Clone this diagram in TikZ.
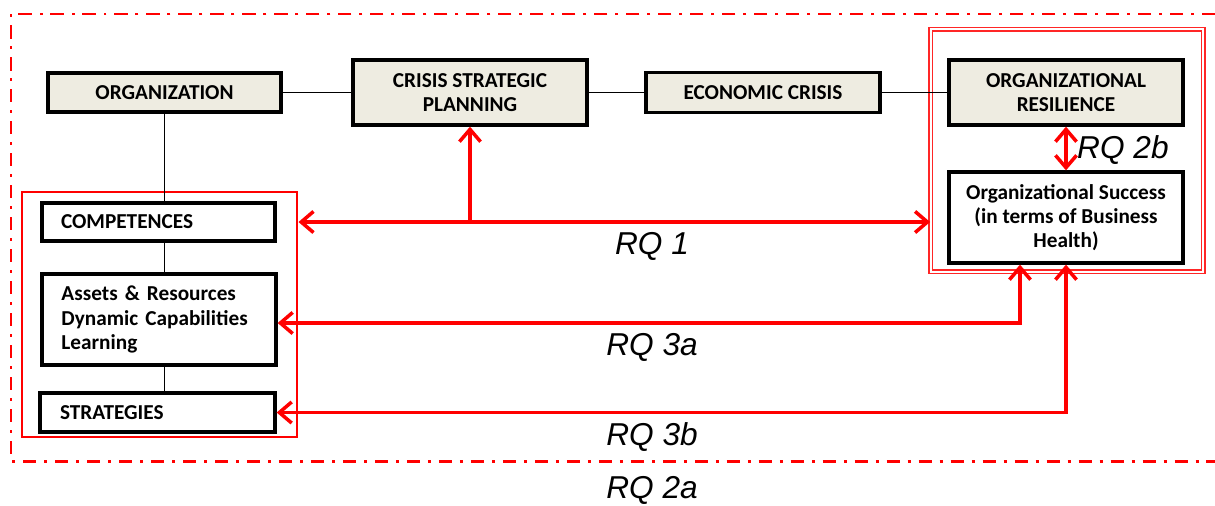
\documentclass[tikz,border=0pt]{standalone}
\usepackage{fontspec}
\setmainfont{Carlito}
\newfontfamily\rqfont{Liberation Sans}
\usepackage{xcolor}
\usepackage{tikz}
\usetikzlibrary{
		calc,
		arrows.meta,
		positioning
	}
\tikzset{
		>={Straight Barb[length=7pt,width=12pt,line width=2pt]}
	}
\definecolor{boxfill}{HTML}{EEECE1}

\begin{document}
\begin{tikzpicture}[
          box/.style={draw=black,line width=1.9pt,fill=boxfill,align=center,
            font=\fontsize{12.1}{13.8}\selectfont\bfseries,inner sep=2pt},
          plainbox/.style={box,fill=white},
          leftbox/.style={plainbox,align=left,text width=3.9cm},
          link/.style={black,line width=1.1pt},
          rq/.style={red,line width=2pt},
          rqlabel/.style={font=\rqfont\fontsize{18}{20}\selectfont\itshape}
          ]
          \useasboundingbox (0,0) rectangle (24.3,-10.1);

          % outer frame, open on the right
          \draw[red,line width=1.7pt,dash pattern=on 7.5pt off 4.5pt on 1.7pt off 4.5pt]
            (24.3,-0.28) -- (0.22,-0.28) -- (0.22,-9.22) -- (24.3,-9.22);

          \node[draw=red,line width=1.7pt,minimum width=5.5cm,minimum height=4.9cm] (leftgrp) at (3.19,-6.29) {};
          \node[draw=red!85,line width=0.75pt,double=white,double distance=1.1pt,
            minimum width=5.45cm,minimum height=4.85cm] (rightgrp) at (21.34,-3.01) {};

          \node[box,minimum width=4.66cm,minimum height=0.78cm] (org) at (3.29,-1.85) {ORGANIZATION};
          \node[box,minimum width=4.68cm,minimum height=1.3cm] (csp) at (9.4,-1.85) {CRISIS STRATEGIC\\PLANNING};
          \node[box,minimum width=4.68cm,minimum height=0.8cm] (eco) at (15.26,-1.85) {ECONOMIC CRISIS};
          \node[box,minimum width=4.68cm,minimum height=1.3cm] (res) at (21.32,-1.85) {ORGANIZATIONAL\\RESILIENCE};
          \node[plainbox,minimum width=4.68cm,minimum height=1.82cm] (succ) at (21.32,-4.35) {Organizational Success\\(in terms of Business\\Health)};

          \node[leftbox,minimum width=4.66cm,minimum height=0.76cm] (comp) at (3.17,-4.44) {COMPETENCES};
          \node[leftbox,minimum width=4.68cm,minimum height=1.82cm] (assets) at (3.18,-6.39) {Assets \& Resources\\Dynamic Capabilities\\Learning};
          \node[leftbox,minimum width=4.7cm,minimum height=0.78cm] (strat) at (3.15,-8.25) {STRATEGIES};

          \draw[link] (org) -- (csp);
          \draw[link] (csp) -- (eco);
          \draw[link] (eco) -- (res);
          \draw[link] (org.south) -- (org.south |- comp.north);
          \draw[link] (comp.south -| org.south) -- (org.south |- assets.north);
          \draw[link] (assets.south -| org.south) -- (org.south |- strat.north);

          \coordinate (rq1) at (9.4,-4.44);
          \coordinate (rq3a) at (20.4,-6.46);

          \draw[rq,<->] (leftgrp.east |- rq1) -- (rightgrp.west |- rq1);
          \draw[rq,->] (rq1) -- (csp.south);
          \draw[rq,<->] (res.south) -- (succ.north);
          \draw[rq,<->] (assets.east |- rq3a) -- (rq3a) -- (rq3a |- succ.south);
          \draw[rq,<->] (strat.east) -| (succ.south);

          \node[rqlabel] (l1) at (13.04,-4.92) {RQ 1};
          \node[rqlabel,anchor=west] (l2b) at (21.42,-3.0) {RQ 2b};
          \node[rqlabel] (l3a) at (13.04,-6.94) {RQ 3a};
          \node[rqlabel] (l3b) at (13.04,-8.74) {RQ 3b};
          \node[rqlabel] (l2a) at (13.04,-9.8) {RQ 2a};

          \end{tikzpicture}
\end{document}
